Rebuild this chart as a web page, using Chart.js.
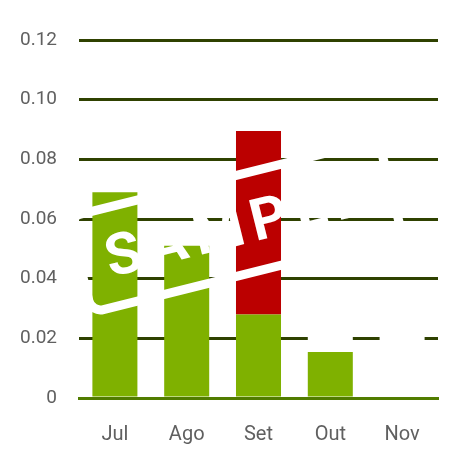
<!DOCTYPE html>
<html>
<head>
<meta charset="utf-8">
<script src="https://cdn.jsdelivr.net/npm/chart.js@4/dist/chart.umd.min.js"></script>
<style>
  html, body { margin: 0; padding: 0; background: #ffffff; }
  #wrap { width: 456px; height: 474px; }
</style>
</head>
<body>
<div id="wrap"><canvas id="c" width="456" height="474"></canvas></div>
<script>
const categories = ['Jul', 'Ago', 'Set', 'Out', 'Nov'];
const greenValues = [0.069, 0.051, 0.028, 0.0154, 0];
const redValues = [0, 0, 0.0615, 0, 0];
const whiteValues = [0, 0, 0, 0.0056, 0.022];
const yTickValues = [0, 0.02, 0.04, 0.06, 0.08, 0.10, 0.12];
const yTickLabels = ['0', '0.02', '0.04', '0.06', '0.08', '0.10', '0.12'];
const watermarkText = 'SAMPLE';

const watermark = {
  id: 'watermark',
  afterDraw(chart) {
    const ctx = chart.ctx;
    const a = chart.chartArea;
    const cx = a.left + (a.right - a.left) * 0.435;
    const cy = a.top + (a.bottom - a.top) * 0.52;
    ctx.save();
    ctx.translate(cx, cy);
    ctx.rotate(-14 * Math.PI / 180);
    ctx.strokeStyle = '#ffffff';
    ctx.lineWidth = 9;
    ctx.beginPath();
    ctx.roundRect(-160, -49, 320, 98, 12);
    ctx.stroke();
    ctx.fillStyle = '#ffffff';
    ctx.font = 'bold 58px Roboto';
    ctx.textAlign = 'center';
    ctx.textBaseline = 'middle';
    const sp = 8;
    if ('letterSpacing' in ctx) ctx.letterSpacing = sp + 'px';
    ctx.fillText(watermarkText, sp / 2, 5);
    ctx.restore();
  }
};

new Chart(document.getElementById('c'), {
  type: 'bar',
  data: {
    labels: categories,
    datasets: [
      { data: greenValues, backgroundColor: '#7fb100', borderWidth: 0 },
      { data: redValues, backgroundColor: '#bb0000', borderWidth: 0 },
      { data: whiteValues, backgroundColor: '#ffffff', borderWidth: 0 }
    ]
  },
  options: {
    responsive: false,
    devicePixelRatio: 1,
    animation: false,
    events: [],
    layout: { padding: { left: 0, right: 18, top: 40, bottom: 0 } },
    plugins: { legend: { display: false }, tooltip: { enabled: false } },
    datasets: { bar: { categoryPercentage: 1, barPercentage: 0.627 } },
    scales: {
      x: {
        stacked: true,
        z: 1,
        grid: { display: false, drawTicks: false },
        border: { display: true, color: '#517c00', width: 3 },
        ticks: { color: '#606060', font: { family: 'Roboto', size: 20 }, padding: 25 },
        afterFit(scale) { scale.height = 76; }
      },
      y: {
        stacked: true,
        min: 0,
        max: 0.12,
        afterBuildTicks(scale) { scale.ticks = yTickValues.map(v => ({ value: v })); },
        ticks: {
          color: '#606060',
          font: { family: 'Roboto', size: 19 },
          padding: 22,
          callback: (v, i) => yTickLabels[i]
        },
        grid: {
          drawTicks: false,
          lineWidth: 3,
          color: (c) => (c.tick && c.tick.value === 0) ? 'rgba(0,0,0,0)' : '#2f4100'
        },
        border: { display: false },
        afterFit(scale) { scale.width = 79; }
      }
    }
  },
  plugins: [watermark]
});
</script>
</body>
</html>
